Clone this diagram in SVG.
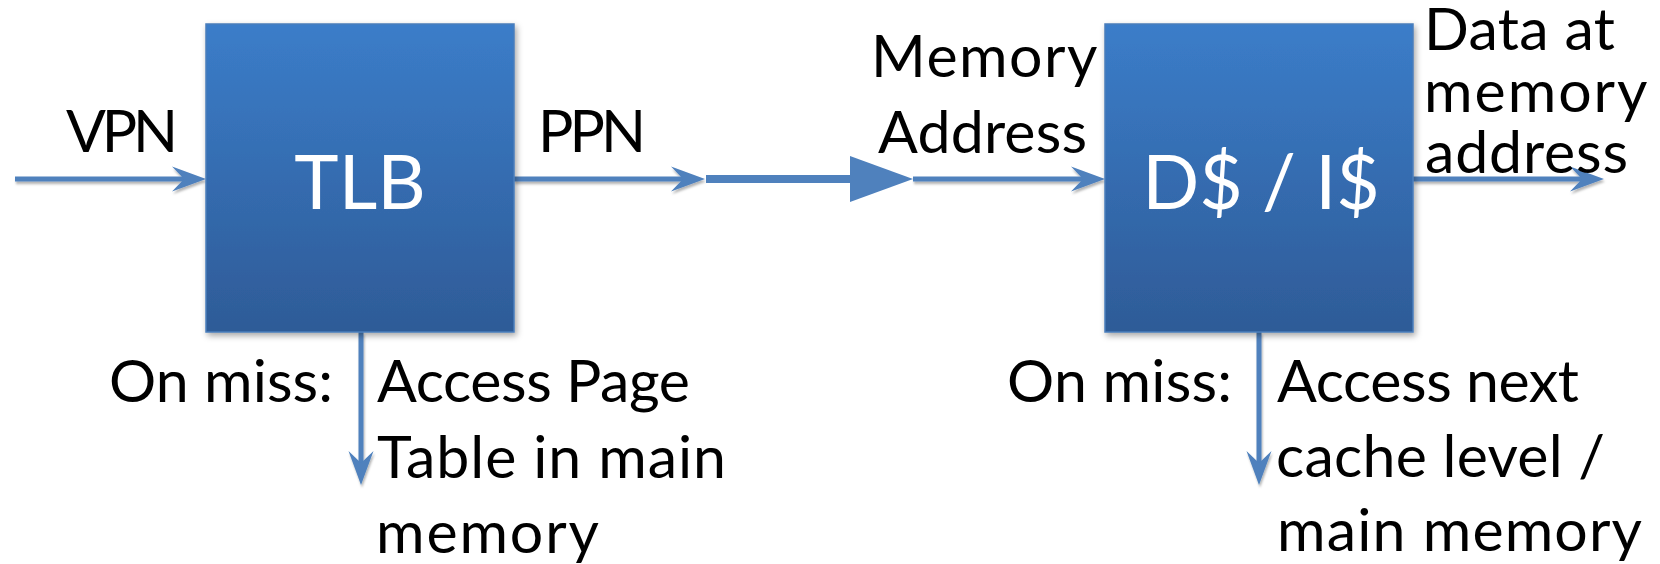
<svg xmlns="http://www.w3.org/2000/svg" width="1660" height="564" viewBox="0 0 1660 564">
  <style>
    .lbl { font-family: Lato, "Open Sans", "Liberation Sans", sans-serif; font-size: 59px; fill: #000; }
    .title { font-family: Lato, "Open Sans", "Liberation Sans", sans-serif; font-size: 75px; fill: #fff; text-anchor: middle; }
    .box { fill: url(#boxFill); stroke: #4A7EBB; stroke-width: 1.5; filter: url(#boxShadow); }
    .wire { fill: none; stroke: #4F81BD; stroke-width: 5; marker-end: url(#stealth); }
    .bus { fill: none; stroke: #4F81BD; stroke-width: 8; marker-end: url(#wedge); }
  </style>
  <defs>
    <linearGradient id="boxFill" x1="0" y1="0" x2="0" y2="1">
      <stop offset="0" stop-color="#3B7DC9"/>
      <stop offset="1" stop-color="#2E5B97"/>
    </linearGradient>
    <filter id="boxShadow" x="-10%" y="-10%" width="125%" height="125%">
      <feDropShadow dx="2" dy="3" stdDeviation="3" flood-color="#000" flood-opacity="0.35"/>
    </filter>
    <filter id="lineShadow" x="-10%" y="-10%" width="120%" height="120%">
      <feDropShadow dx="1" dy="2.5" stdDeviation="1.3" flood-color="#000" flood-opacity="0.3"/>
    </filter>
    <!-- swept arrowhead, tip lies 20px beyond the path end -->
    <marker id="stealth" markerUnits="userSpaceOnUse" markerWidth="40" markerHeight="30" viewBox="0 -15 40 30" refX="14" refY="0" orient="auto">
      <path d="M0,-12.5 L34,0 L0,12.5 L12,0 Z" fill="#4F81BD"/>
    </marker>
    <!-- large solid triangle for the address bus -->
    <marker id="wedge" markerUnits="userSpaceOnUse" markerWidth="66" markerHeight="50" viewBox="0 -25 66 50" refX="0" refY="0" orient="auto">
      <path d="M0,-23 L63,0 L0,23 Z" fill="#4F81BD"/>
    </marker>
  </defs>

  <g id="connectors">
    <g filter="url(#lineShadow)">
      <path class="wire" d="M15,179 H186"/>
      <path class="wire" d="M514,179 H685"/>
      <path class="wire" d="M913,179 H1085"/>
      <path class="wire" d="M1413,179 H1584"/>
      <path class="wire" d="M361,332 V465"/>
      <path class="wire" d="M1259,332 V465"/>
    </g>
    <path class="bus" d="M706,179 H850"/>
  </g>

  <g id="tlb">
    <rect class="box" x="206" y="24" width="308" height="308"/>
    <text class="title" x="360" y="209">TLB</text>
  </g>

  <g id="cache">
    <rect class="box" x="1105" y="24" width="308" height="308"/>
    <text class="title" x="1261" y="209">D$ / I$</text>
  </g>

  <g id="labels">
    <text class="lbl" x="66" y="152" textLength="112">VPN</text>
    <text class="lbl" x="538" y="152" textLength="108">PPN</text>
    <text class="lbl">
      <tspan x="871" y="77" textLength="225">Memory</tspan>
      <tspan x="878" y="153" textLength="209">Address</tspan>
    </text>
    <text class="lbl">
      <tspan x="1424" y="50" textLength="191">Data at</tspan>
      <tspan x="1424" y="112" textLength="222">memory</tspan>
      <tspan x="1425" y="173" textLength="203">address</tspan>
    </text>
    <text class="lbl" x="109" y="402" textLength="224">On miss:</text>
    <text class="lbl">
      <tspan x="377" y="402" textLength="313">Access Page</tspan>
      <tspan x="377" y="478" textLength="349">Table in main</tspan>
      <tspan x="376" y="553" textLength="223">memory</tspan>
    </text>
    <text class="lbl" x="1007" y="402" textLength="225">On miss:</text>
    <text class="lbl">
      <tspan x="1277" y="402" textLength="302">Access next</tspan>
      <tspan x="1276" y="477" textLength="329">cache level /</tspan>
      <tspan x="1277" y="551" textLength="365">main memory</tspan>
    </text>
  </g>
</svg>
